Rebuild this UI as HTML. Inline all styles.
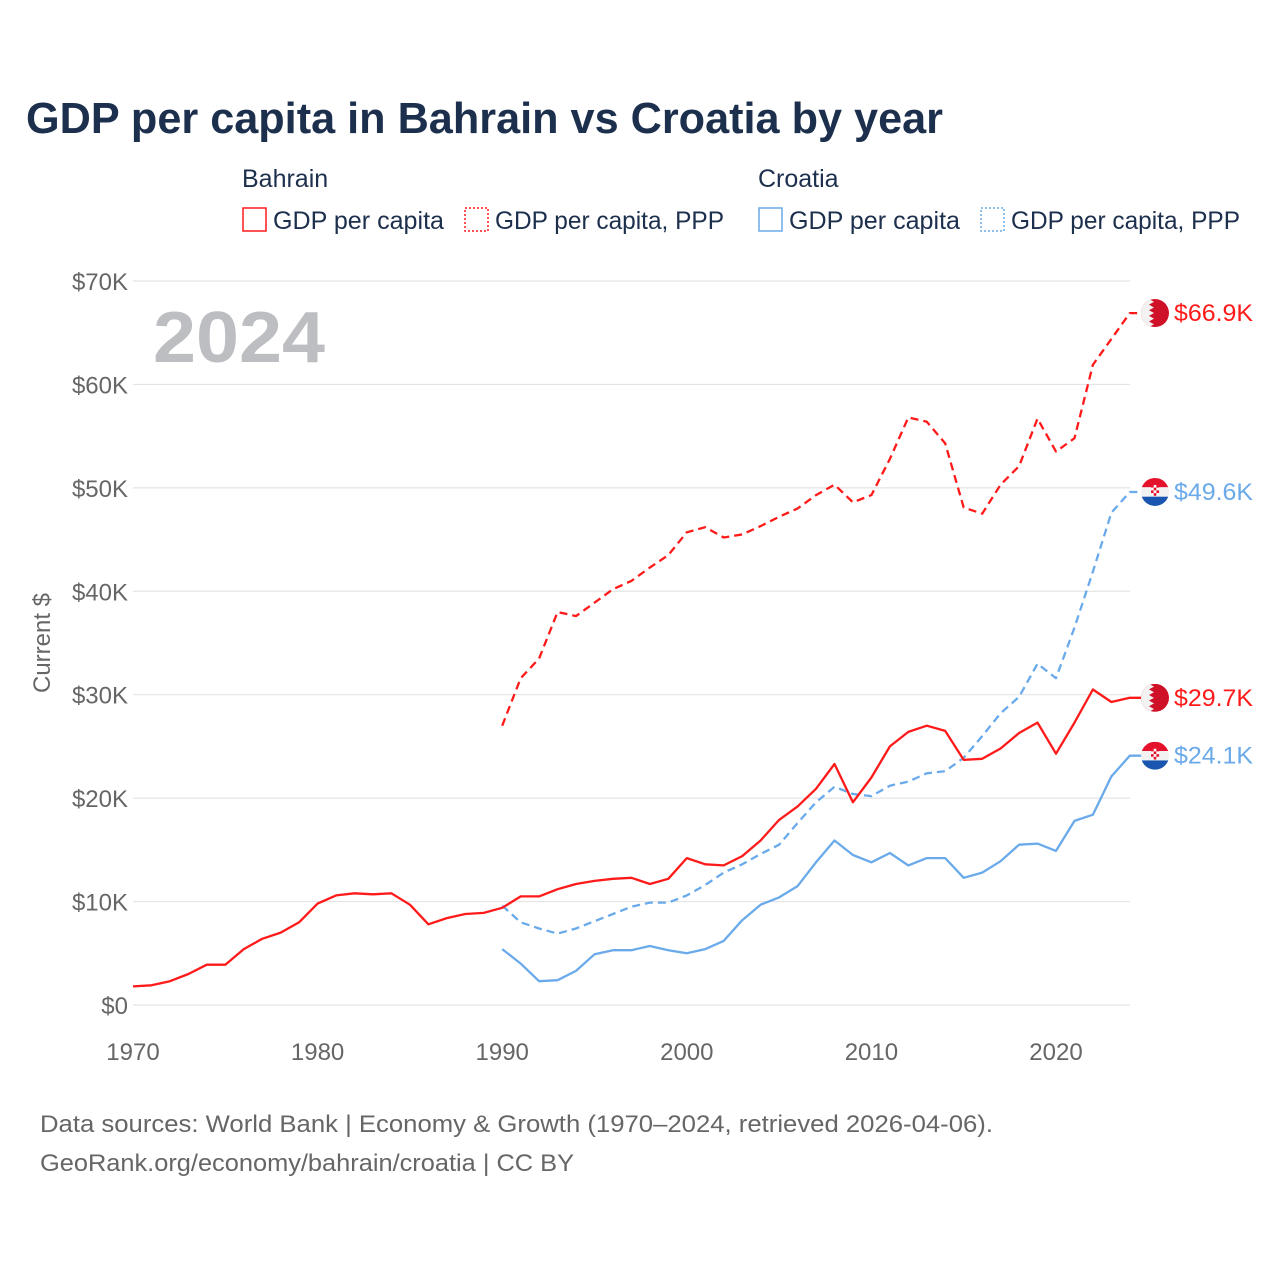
<!DOCTYPE html>
<html><head><meta charset="utf-8"><style>
body{margin:0;background:#fff;width:1280px;height:1280px;overflow:hidden;font-family:"Liberation Sans",sans-serif;}
</style></head><body>
<svg id="chart" width="1280" height="1280" xmlns="http://www.w3.org/2000/svg" font-family="Liberation Sans, sans-serif">
<text x="26" y="133" font-size="44" font-weight="bold" fill="#1c2f4d" textLength="917" lengthAdjust="spacingAndGlyphs">GDP per capita in Bahrain vs Croatia by year</text>
<g font-size="25" fill="#1c2f4d">
<text x="242" y="187">Bahrain</text>
<text x="758" y="187">Croatia</text>
<g><rect x="243" y="208" width="23" height="23" fill="none" stroke="#ff1a1a" stroke-width="1.5"/><text x="273" y="229" textLength="171" lengthAdjust="spacingAndGlyphs">GDP per capita</text></g>
<g><rect x="465" y="208" width="23" height="23" fill="none" stroke="#ff1a1a" stroke-width="1.5" stroke-dasharray="2,2"/><text x="495" y="229" textLength="229" lengthAdjust="spacingAndGlyphs">GDP per capita, PPP</text></g>
<g><rect x="759" y="208" width="23" height="23" fill="none" stroke="#6aaaea" stroke-width="1.5"/><text x="789" y="229" textLength="171" lengthAdjust="spacingAndGlyphs">GDP per capita</text></g>
<g><rect x="981" y="208" width="23" height="23" fill="none" stroke="#6aaaea" stroke-width="1.5" stroke-dasharray="2,2"/><text x="1011" y="229" textLength="229" lengthAdjust="spacingAndGlyphs">GDP per capita, PPP</text></g>
</g>
<text x="153" y="362" font-size="72" font-weight="bold" fill="#bdbec2" textLength="172" lengthAdjust="spacingAndGlyphs">2024</text>
<text transform="translate(50,643) rotate(-90)" text-anchor="middle" font-size="24" fill="#666">Current $</text>
<g id="grid"></g><g id="series"></g><g id="ends"></g>
<g font-size="24" fill="#666">
<text x="40" y="1132" textLength="953" lengthAdjust="spacingAndGlyphs">Data sources: World Bank | Economy &amp; Growth (1970–2024, retrieved 2026-04-06).</text>
<text x="40" y="1171" textLength="534" lengthAdjust="spacingAndGlyphs">GeoRank.org/economy/bahrain/croatia | CC BY</text>
</g>
</svg>
<script>
const yTicks=[0,10,20,30,40,50,60,70];
const xTicks=[1970,1980,1990,2000,2010,2020];
const bahrainGdp=[1.8,1.9,2.3,3.0,3.9,3.9,5.4,6.4,7.0,8.0,9.8,10.6,10.8,10.7,10.8,9.7,7.8,8.4,8.8,8.9,9.4,10.5,10.5,11.2,11.7,12.0,12.2,12.3,11.7,12.2,14.2,13.6,13.5,14.4,15.9,17.9,19.2,20.9,23.3,19.6,22.0,25.0,26.4,27.0,26.5,23.7,23.8,24.8,26.3,27.3,24.3,27.3,30.5,29.3,29.7];
const bahrainPpp=[27.0,31.6,33.5,38.0,37.6,38.9,40.2,41.0,42.3,43.5,45.7,46.2,45.2,45.5,46.3,47.2,48.0,49.3,50.3,48.6,49.3,52.8,56.8,56.4,54.3,48.1,47.5,50.3,52.1,56.7,53.5,54.8,61.9,64.4,66.9];
const croatiaGdp=[5.4,4.0,2.3,2.4,3.3,4.9,5.3,5.3,5.7,5.3,5.0,5.4,6.2,8.2,9.7,10.4,11.5,13.8,15.9,14.5,13.8,14.7,13.5,14.2,14.2,12.3,12.8,13.9,15.5,15.6,14.9,17.8,18.4,22.1,24.1];
const croatiaPpp=[9.6,8.0,7.4,6.9,7.4,8.1,8.8,9.5,9.9,9.9,10.6,11.6,12.8,13.6,14.6,15.5,17.6,19.6,21.1,20.4,20.2,21.2,21.6,22.4,22.6,23.9,26.0,28.2,29.8,33.0,31.6,36.5,41.9,47.6,49.6];
const endLabels=["$66.9K","$49.6K","$29.7K","$24.1K"];
const NS="http://www.w3.org/2000/svg";
const x=yr=>133+(yr-1970)*18.46;
const y=v=>1005-v*10.343;
function mk(tag,attrs,parent){const e=document.createElementNS(NS,tag);for(const k in attrs)e.setAttribute(k,attrs[k]);parent.appendChild(e);return e;}
const grid=document.getElementById('grid');
yTicks.forEach(t=>{
 const l=mk('line',{x1:133,x2:1130,y1:y(t),y2:y(t),stroke:'#e4e4e4','stroke-width':1.2},grid);
 
 
 const tx=mk('text',{x:128,y:y(t)+9,'text-anchor':'end','font-size':24,fill:'#666'},grid);
 tx.textContent=t===0?'$0':'$'+t+'K';
 
 
});
xTicks.forEach(t=>{
 const tx=mk('text',{x:x(t),y:1060,'text-anchor':'middle','font-size':24,fill:'#666'},grid);
 tx.textContent=t;
 
 
});
const ser=document.getElementById('series');
function line(vals,start,color,dash,name){
 const d=vals.map((v,i)=>(i?'L':'M')+x(start+i).toFixed(1)+','+y(v).toFixed(1)).join(' ')+' L1150,'+y(vals[vals.length-1]).toFixed(1);
 const p=mk('path',{d:d,fill:'none',stroke:color,'stroke-width':2.3,'stroke-linejoin':'round'},ser);
 if(dash)p.setAttribute('stroke-dasharray','8,5');
 
 
}
line(croatiaPpp,1990,'#6aaaea',true,'croatia-ppp-line');
line(croatiaGdp,1990,'#6aaaea',false,'croatia-gdp-line');
line(bahrainPpp,1990,'#ff1a1a',true,'bahrain-ppp-line');
line(bahrainGdp,1970,'#ff1a1a',false,'bahrain-gdp-line');
const ends=document.getElementById('ends');
const defs=mk('defs',{},ends);
const cp=mk('clipPath',{id:'fc'},defs);mk('circle',{cx:0,cy:0,r:14},cp);
function flag(v,country,label,color){
 const cy=y(v),cx=1155;
 const g=mk('g',{transform:`translate(${cx},${cy})`},ends);
 
 
 const f=mk('g',{'clip-path':'url(#fc)'},g);
 if(country==='bahrain'){
  mk('rect',{x:-14,y:-14,width:28,height:28,fill:'#ce1126'},f);
  let pts='-14,-14 -6,-14';
  for(let k=0;k<5;k++){const y0=-14+k*5.6;pts+=` -1,${y0+2.8} -6,${y0+5.6}`;}
  pts+=' -14,14';
  mk('polygon',{points:pts,fill:'#f2f2f2'},f);
 }else{
  mk('rect',{x:-14,y:-14,width:28,height:9.3,fill:'#e4132b'},f);
  mk('rect',{x:-14,y:-4.7,width:28,height:9.4,fill:'#f2f2f2'},f);
  mk('rect',{x:-14,y:4.7,width:28,height:9.3,fill:'#1a55b0'},f);
  for(let r=0;r<4;r++)for(let c=0;c<3;c++)mk('rect',{x:-4+c*2.7,y:-7+r*2.7,width:2.7,height:2.7,fill:(r+c)%2?'#fff':'#e4132b'},f);
 }
 const t=mk('text',{x:1174,y:cy+8,'font-size':24,fill:color,textLength:79,lengthAdjust:'spacingAndGlyphs'},ends);
 t.textContent=label;
 
 
}
flag(bahrainPpp[bahrainPpp.length-1],'bahrain',endLabels[0],'#ff1a1a');
flag(croatiaPpp[croatiaPpp.length-1],'croatia',endLabels[1],'#6aaaea');
flag(bahrainGdp[bahrainGdp.length-1],'bahrain',endLabels[2],'#ff1a1a');
flag(croatiaGdp[croatiaGdp.length-1],'croatia',endLabels[3],'#6aaaea');
</script>
</body></html>
